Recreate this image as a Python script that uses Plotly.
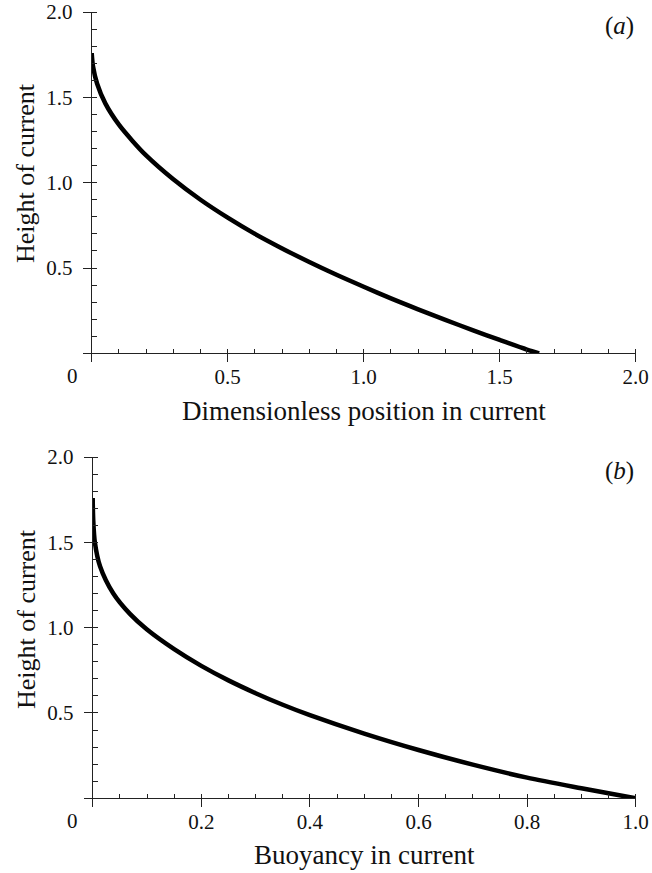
import plotly.graph_objects as go

# Panel (a): height vs dimensionless position
pos_a = [0.0, 0.005, 0.02, 0.05, 0.1, 0.15, 0.2, 0.3, 0.4, 0.5, 0.6, 0.7, 0.8, 0.9,
         1.0, 1.1, 1.2, 1.3, 1.4, 1.5, 1.6, 1.645]
height_a = [1.76, 1.68, 1.58, 1.465, 1.34, 1.245, 1.16, 1.02, 0.9, 0.795, 0.70, 0.615,
            0.535, 0.46, 0.39, 0.322, 0.258, 0.196, 0.136, 0.078, 0.022, 0.0]

# Panel (b): height vs buoyancy
buoy_b = [0.0, 0.001, 0.004, 0.0135, 0.038, 0.069, 0.1, 0.15, 0.2, 0.25, 0.3, 0.35, 0.4,
          0.5, 0.6, 0.7, 0.8, 0.9, 1.0]
height_b = [1.76, 1.63, 1.5, 1.36, 1.20, 1.079, 0.989, 0.874, 0.776, 0.691, 0.616, 0.548,
            0.487, 0.379, 0.283, 0.197, 0.121, 0.059, 0.0]

xticks_a = [0, 0.5, 1.0, 1.5, 2.0]
xlabels_a = ["", "0.5", "1.0", "1.5", "2.0"]
xticks_b = [0, 0.2, 0.4, 0.6, 0.8, 1.0]
xlabels_b = ["", "0.2", "0.4", "0.6", "0.8", "1.0"]
yticks = [0, 0.5, 1.0, 1.5, 2.0]
ylabels = ["", "0.5", "1.0", "1.5", "2.0"]

W, H = 652, 873
FONT = "Liberation Serif"
AX = "#222222"
TXT = "#111111"


def dx(px):
    return px / W


def dy(py):
    return 1 - py / H


fig = go.Figure()
fig.add_trace(go.Scatter(x=pos_a, y=height_a, mode="lines",
                         line=dict(color="black", width=4.5, shape="spline", smoothing=0.8),
                         xaxis="x", yaxis="y", showlegend=False, hoverinfo="skip"))
fig.add_trace(go.Scatter(x=buoy_b, y=height_b, mode="lines",
                         line=dict(color="black", width=4.5, shape="spline", smoothing=0.8),
                         xaxis="x2", yaxis="y2", showlegend=False, hoverinfo="skip"))

dom_xa = [dx(91.7), dx(635.7)]
dom_ya = [dy(353.3), dy(12.1)]
dom_xb = [dx(92.7), dx(635.7)]
dom_yb = [dy(798.3), dy(457.0)]

tickfont = dict(family=FONT, size=21, color=TXT)
xtitlefont = dict(family=FONT, size=27, color=TXT)
ytitlefont = dict(family=FONT, size=26, color=TXT)


def xax(domain, anchor, tickvals, ticktext, minor_dtick, rng):
    return dict(domain=domain, anchor=anchor, range=rng, showgrid=False, zeroline=False,
                showline=True, linecolor=AX, linewidth=1, ticks="outside", ticklen=8, tickwidth=1,
                tickcolor=AX, tickvals=tickvals, ticktext=ticktext, tickfont=tickfont,
                ticklabelstandoff=-4,
                minor=dict(ticks="inside", ticklen=4, tickwidth=1, tickcolor=AX, dtick=minor_dtick,
                           tick0=0, showgrid=False),
                automargin=False, fixedrange=True)


def yax(domain, anchor):
    return dict(domain=domain, anchor=anchor, range=[0, 2], showgrid=False, zeroline=False,
                showline=True, linecolor=AX, linewidth=1, ticks="outside", ticklen=8, tickwidth=1,
                tickcolor=AX, tickvals=yticks, ticktext=ylabels, tickfont=tickfont,
                ticklabelstandoff=6,
                minor=dict(ticks="inside", ticklen=5, tickwidth=1, tickcolor=AX, dtick=0.1,
                           tick0=0, showgrid=False),
                automargin=False, fixedrange=True)


def overlay_x(over, anchor, tickvals, rng):
    return dict(overlaying=over, anchor=anchor, range=rng, showgrid=False, zeroline=False,
                showline=False, ticks="inside", ticklen=8, tickwidth=1, tickcolor=AX,
                tickvals=tickvals, showticklabels=False, fixedrange=True)


def overlay_y(over, anchor):
    return dict(overlaying=over, anchor=anchor, range=[0, 2], showgrid=False, zeroline=False,
                showline=False, ticks="inside", ticklen=8, tickwidth=1, tickcolor=AX,
                tickvals=yticks, showticklabels=False, fixedrange=True)


fig.update_layout(
    width=W, height=H, margin=dict(l=0, r=0, t=0, b=0),
    paper_bgcolor="white", plot_bgcolor="white", showlegend=False,
    xaxis=xax(dom_xa, "y", xticks_a, xlabels_a, 0.1, [0, 2]),
    yaxis=yax(dom_ya, "x"),
    xaxis2=xax(dom_xb, "y2", xticks_b, xlabels_b, 0.05, [0, 1]),
    yaxis2=yax(dom_yb, "x2"),
    xaxis3=overlay_x("x", "y3", xticks_a, [0, 2]),
    yaxis3=overlay_y("y", "x3"),
    xaxis4=overlay_x("x2", "y4", xticks_b, [0, 1]),
    yaxis4=overlay_y("y2", "x4"),
)


def note(px, py, text, font, angle=0):
    fig.add_annotation(x=dx(px), y=dy(py), xref="paper", yref="paper", text=text,
                       showarrow=False, font=font, xanchor="center", yanchor="middle",
                       textangle=angle)


# axis titles
note(364, 411, "Dimensionless position in current", xtitlefont)
note(364, 855, "Buoyancy in current", xtitlefont)
note(26, 173, "Height of current", ytitlefont, -90)
note(26, 619, "Height of current", ytitlefont, -90)

# origin labels
note(72, 376, "0", tickfont)
note(72, 821, "0", tickfont)

# panel letters
letter_font = dict(family=FONT, size=25, color=TXT)
note(619, 26, "(<i>a</i>)", letter_font)
note(619, 471, "(<i>b</i>)", letter_font)

fig.write_html(
    "out.html",
    config={"displayModeBar": False, "staticPlot": True},
    post_script="document.body.style.margin='0';document.body.style.overflow='hidden';",
)
